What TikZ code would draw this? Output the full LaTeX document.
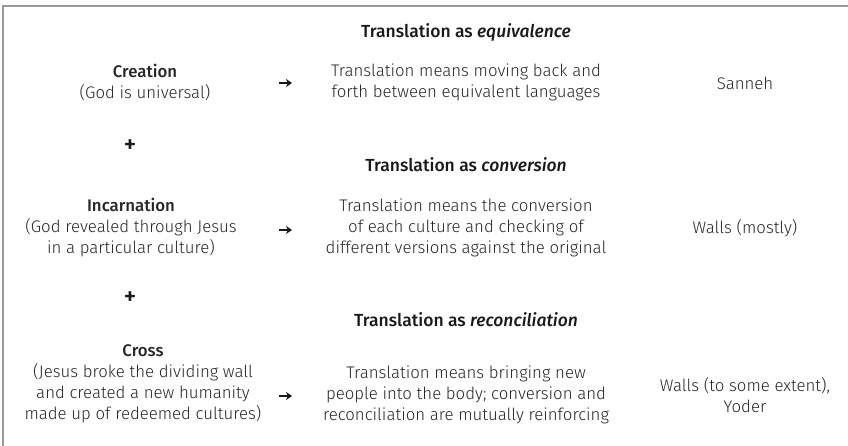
\documentclass[tikz,border=0pt]{standalone}
\usepackage{fontspec}
\setmainfont{Fira Sans}[UprightFont=* Light, ItalicFont=* Light Italic, BoldFont=* Medium, BoldItalicFont=* Medium Italic]
\usetikzlibrary{arrows.meta}
\tikzset{
  txt/.style={align=center,inner sep=0pt,text=black!85,font=\fontsize{16.8}{21}\selectfont},
  kopf/.style={txt,text=black!90,font=\fontsize{17.5}{21}\selectfont\bfseries},
  pfeil/.style={-{Stealth[length=6pt,width=8pt]},line width=1.7pt,black!90},
}
\begin{document}
\begin{tikzpicture}[x=1pt,y=-1pt]
\useasboundingbox (0,0) rectangle (848,446);
\def\mx{466}
\def\rx{745}
% frame
\draw[black!40,line width=1.2pt] (3,446) -- (3,6) -- (848,6);
% headings
\node[kopf] (equiv) at (\mx,32) {Translation as \emph{equivalence}};
\node[kopf] (conv) at (\mx,165) {Translation as \emph{conversion}};
\node[kopf] (recon) at (\mx,320) {Translation as \emph{reconciliation}};
% left column
\node[txt] (creation) at (145,82.5) {\textbf{Creation}\\(God is universal)};
\node[kopf,font=\fontsize{24}{24}\selectfont\bfseries] (plusa) at (130,146) {+};
\node[txt] (incarnation) at (131,227.5) {\textbf{Incarnation}\\(God revealed through Jesus\\in a particular culture)};
\node[kopf,font=\fontsize{24}{24}\selectfont\bfseries] (plusb) at (130,298) {+};
\node[txt] (cross) at (143,384) {\textbf{Cross}\\(Jesus broke the dividing wall\\and created a new humanity\\made up of redeemed cultures)};
% middle column
\node[txt] (mequiv) at (\mx,82.5) {Translation means moving back and\\forth between equivalent languages};
\node[txt] (mconv) at (\mx,228) {Translation means the conversion\\of each culture and checking of\\different versions against the original};
\node[txt] (mrecon) at (\mx,395) {Translation means bringing new\\people into the body; conversion and\\reconciliation are mutually reinforcing};
% right column
\node[txt] (sanneh) at (\rx,83) {Sanneh};
\node[txt] (walls) at (\rx,228) {Walls (mostly)};
\node[txt] (yoder) at (\rx,395.5) {Walls (to some extent),\\Yoder};
% arrows
\coordinate (pa1) at (279,83);
\coordinate (pb1) at (292,83);
\coordinate (pa2) at (279,230);
\coordinate (pb2) at (292,230);
\coordinate (pa3) at (279,396);
\coordinate (pb3) at (292,396);
\draw[pfeil] (pa1) -- (pb1);
\draw[pfeil] (pa2) -- (pb2);
\draw[pfeil] (pa3) -- (pb3);
\end{tikzpicture}
\end{document}
